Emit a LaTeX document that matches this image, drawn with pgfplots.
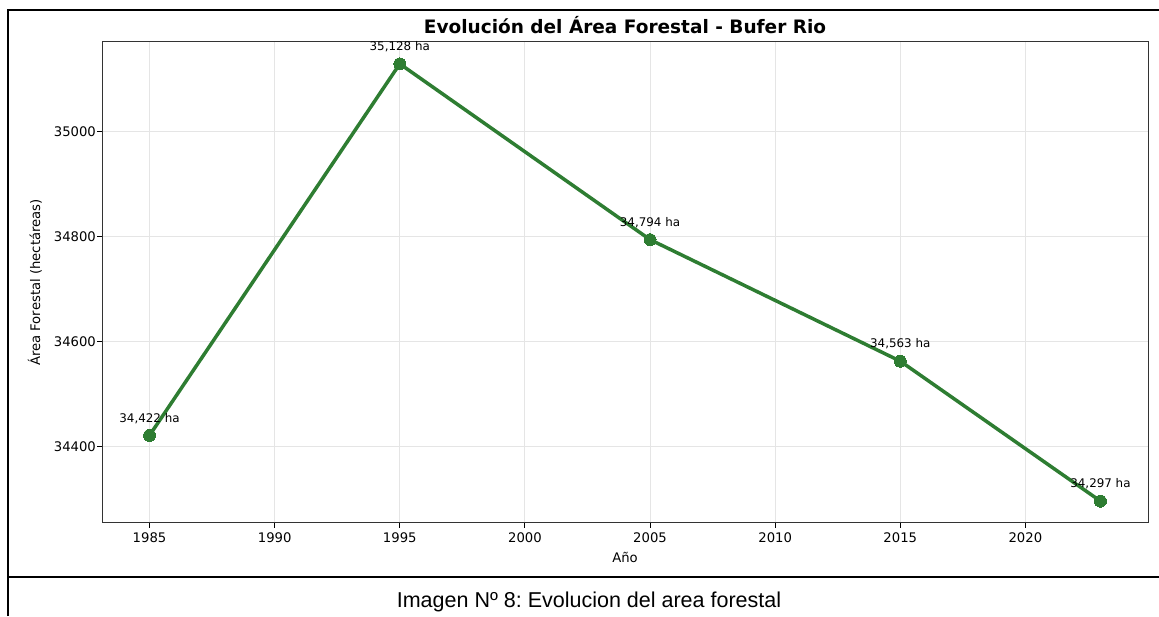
\documentclass[border=0pt]{standalone}
\usepackage{pgfplots}
\pgfplotsset{compat=1.18}
\usepackage{fontspec}
\setmainfont{DejaVu Sans}
\newfontfamily\capfont{Liberation Sans}
\definecolor{lg}{HTML}{2E7D32}
\frenchspacing
\begin{document}
\begin{tikzpicture}[x=1pt,y=1pt]
\path[use as bounding box] (0,0) rectangle (1159,616);
\draw[line width=1.3pt] (8,0) -- (8,606) -- (1159,606);
\draw[line width=1.3pt] (8,39) -- (1159,39);
\node[font=\capfont\fontsize{21.5}{24}\selectfont, anchor=base] at (589,9) {Imagen Nº 8: Evolucion del area forestal};
\begin{axis}[
  at={(102pt,93pt)}, anchor=south west,
  scale only axis, width=1046pt, height=481pt,
  xmin=1983.1, xmax=2024.9, ymin=34255.45, ymax=35169.55,
  xtick={1985,1990,...,2020}, ytick={34400,34600,34800,35000},
  scaled y ticks=false, scaled x ticks=false,
  yticklabel style={/pgf/number format/fixed, xshift=2pt},
  xticklabel style={yshift=-2pt},
  /pgf/number format/1000 sep={},
  /pgf/number format/assume math mode=true,
  tick label style={font=\fontsize{13.2}{15}\selectfont},
  tick align=outside, major tick length=4.6pt,
  tick style={black, line width=1pt},
  axis line style={black!80, line width=1pt},
  xtick pos=bottom, ytick pos=left,
  grid=major, major grid style={black!10, line width=1pt},
  clip=false,
  title={Evolución del Área Forestal - Bufer Rio},
  title style={font=\bfseries\fontsize{18.5}{22}\selectfont, at={(axis description cs:0.5,1.006)}, anchor=base},
  xlabel={Año},
  xlabel style={font=\fontsize{13.2}{15}\selectfont, at={(axis description cs:0.5,-0.0811)}, anchor=base},
  ylabel={Área Forestal (hectáreas)},
  ylabel style={font=\fontsize{13.2}{15}\selectfont, at={(axis description cs:-0.0641,0.5)}, anchor=center},
]
\addplot[color=lg, line width=3.5pt, mark=*, mark size=6pt,
  mark options={fill=lg, draw=lg, line width=0pt},
  nodes near coords, point meta=explicit symbolic,
  nodes near coords style={anchor=base, yshift=13.2pt, inner sep=0pt, font=\fontsize{11.9}{13}\selectfont, text=black}]
table[meta=label] {
x y label
1985 34422 34,422~ha
1995 35128 35,128~ha
2005 34794 34,794~ha
2015 34563 34,563~ha
2023 34297 34,297~ha
};
\end{axis}
\end{tikzpicture}
\end{document}
